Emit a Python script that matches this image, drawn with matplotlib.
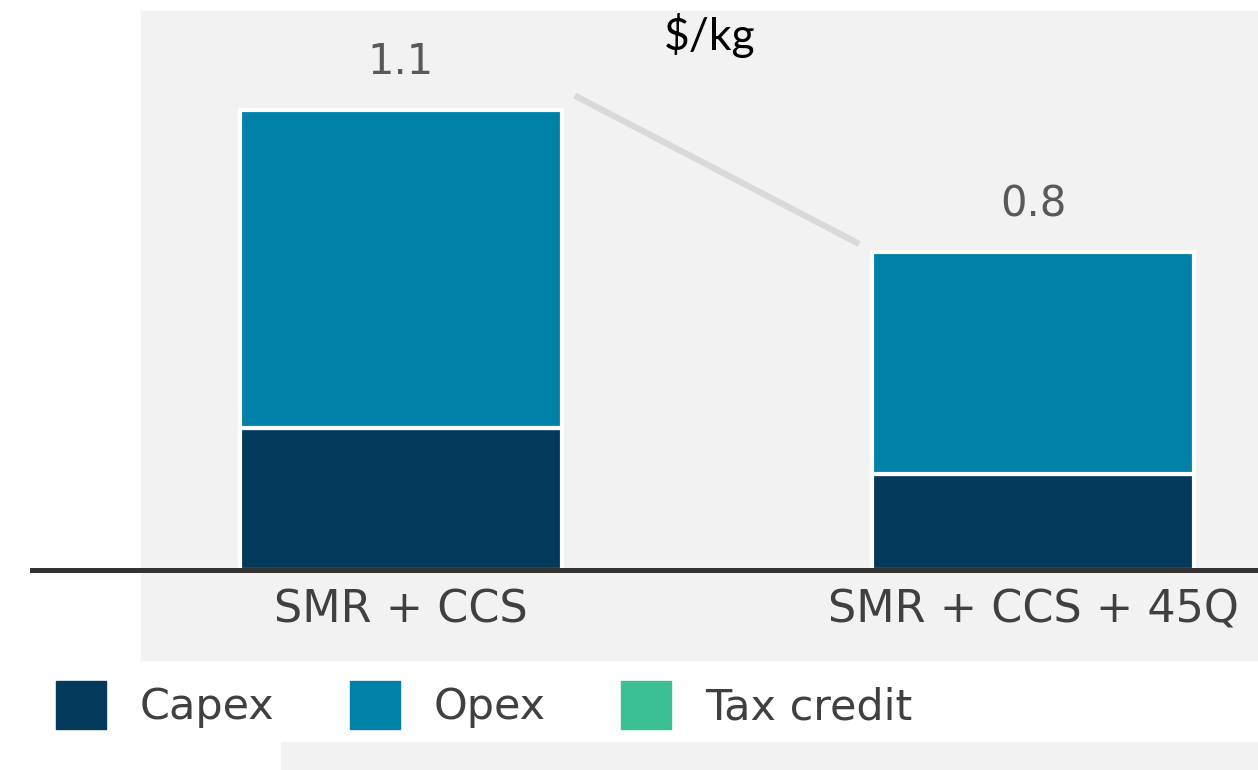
import matplotlib.pyplot as plt
from matplotlib.patches import Rectangle, Patch

categories = ["SMR + CCS", "SMR + CCS + 45Q"]
capex = [0.34, 0.23]
opex = [0.76, 0.53]
tax_credit = [0.0, 0.0]
total_labels = ["1.1", "0.8"]

c_capex = "#033a5c"
c_opex = "#0082a8"
c_tax = "#3bbf95"
grey_txt = "#404040"

fig = plt.figure(figsize=(12.58, 7.7), dpi=100)
W, H = 1258, 770

# grey panels behind the chart
fig.patches.append(Rectangle((141 / W, 1 - 660 / H), 1, (660 - 11) / H,
                             transform=fig.transFigure, color="#f2f2f2", zorder=-5))
fig.patches.append(Rectangle((281 / W, 0), 1, (770 - 742) / H,
                             transform=fig.transFigure, color="#f2f2f2", zorder=-5))

ax = fig.add_axes([32 / W, 200 / H, 1 - 32 / W, 560 / H])
ax.patch.set_alpha(0)

x = list(range(len(categories)))
w = 0.51
ax.bar(x, capex, w, color=c_capex, edgecolor="white", linewidth=3, zorder=3)
ax.bar(x, opex, w, bottom=capex, color=c_opex, edgecolor="white", linewidth=3, zorder=3)
tops = [a + b for a, b in zip(capex, opex)]
ax.bar(x, tax_credit, w, bottom=tops, color=c_tax, linewidth=0, zorder=3)

# connector between bar tops
ax.plot([x[0] + w / 2 + 0.02, x[1] - w / 2 - 0.02],
        [tops[0] + 0.035, tops[1] + 0.02],
        color="#d9d9d9", linewidth=4.5, solid_capstyle="butt", zorder=2)

for xi, t, lab in zip(x, tops, total_labels):
    ax.text(xi, t + 0.065, lab, ha="center", va="bottom", fontsize=30, color="#595959")

ax.set_xlim(-369 / 632, -369 / 632 + 1226 / 632)
ax.set_ylim(0, 560 / 418)
ax.set_xticks(x)
ax.set_xticklabels(categories, fontsize=32, color=grey_txt)
ax.tick_params(axis="x", length=0, pad=13)
ax.set_yticks([])
for s in ["top", "left", "right"]:
    ax.spines[s].set_visible(False)
ax.spines["bottom"].set_color("#333333")
ax.spines["bottom"].set_linewidth(3.6)
ax.spines["bottom"].set_zorder(5)

fig.text(710 / W, 1 - 35 / H, "$/kg", ha="center", va="center",
         fontsize=32, family="Lato", color="black")

handles = [Patch(color=c_capex), Patch(color=c_opex), Patch(color=c_tax)]
fig.legend(handles, ["Capex", "Opex", "Tax credit"], loc="center left",
           bbox_to_anchor=(56 / W, 1 - 705 / H), ncol=3, frameon=False,
           fontsize=31, labelcolor=grey_txt, borderpad=0, borderaxespad=0,
           handlelength=1.15, handleheight=1.35, handletextpad=0.8,
           columnspacing=1.75)

fig.savefig("out.png", dpi=100)
